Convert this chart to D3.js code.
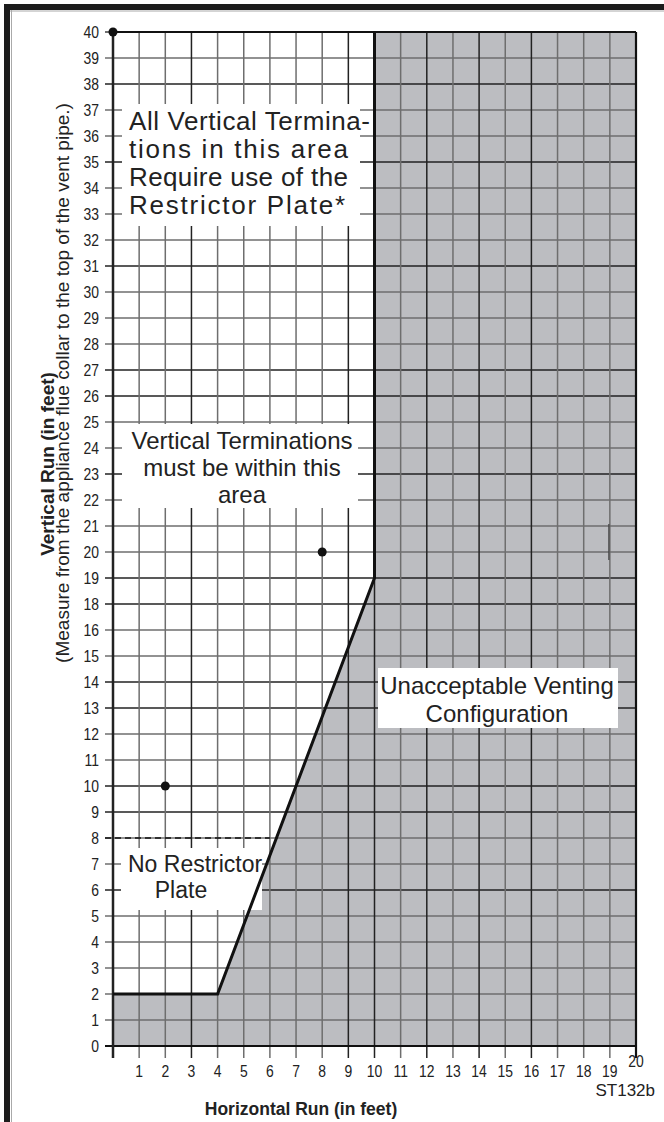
<!DOCTYPE html>
<html><head><meta charset="utf-8">
<script src="https://cdn.jsdelivr.net/npm/d3@7"></script>
<style>
html,body{margin:0;padding:0;background:#fff;}
svg{display:block;}
text{font-family:"Liberation Sans",Arial,Helvetica,sans-serif;fill:#222;}
</style>
</head><body>
<script>
// ---- data ----
const xTicks = [1,2,3,4,5,6,7,8,9,10,11,12,13,14,15,16,17,18,19,20];
// the printed axis skips "17"
const yTicks = [0,1,2,3,4,5,6,7,8,9,10,11,12,13,14,15,16,18,19,20,21,22,23,24,25,26,27,28,29,30,31,32,33,34,35,36,37,38,39,40];
const boundaryX = [0,4,10,10];
const boundaryY = [2,2,19,40];
const dotX = [0,2,8];
const dotY = [40,10,20];
const noPlateLevel = 8;
const noPlateEndX = 6;
const labels1 = ["All Vertical Termina-","tions in this area","Require use of the","Restrictor Plate*"];
const labels2 = ["Vertical Terminations","must be within this","area"];
const labels3 = ["No Restrictor","Plate"];
const labels4 = ["Unacceptable Venting","Configuration"];

const W=664,H=1122;
const svg=d3.select("body").append("svg").attr("width",W).attr("height",H);

const x=d3.scaleLinear().domain([0,20]).range([113,636]);
const u=(1046-32)/39;
const y=d3.scaleLinear().domain([0,16,18,40]).range([1046,1046-16*u,1046-17*u,32]);

// printed grid lines come out either dark or grey in the scan
const darkRows=new Set([38,35,31,27,26,23,19,18,14,13,10,9,6]);
const darkCols=new Set([3,9,10,12,14,16]);

// outer frame
svg.append("rect").attr("x",4).attr("y",4).attr("width",W-4).attr("height",6).attr("fill","#1c1c1c");
svg.append("rect").attr("x",4).attr("y",4).attr("width",6).attr("height",H-4).attr("fill","#1c1c1c");
svg.append("line").attr("x1",11.5).attr("x2",11.5).attr("y1",10).attr("y2",H).attr("stroke","#aaa").attr("stroke-width",1);
svg.append("line").attr("x1",10).attr("x2",W).attr("y1",11).attr("y2",11).attr("stroke","#aaa").attr("stroke-width",1);

// shaded unacceptable area
const gray=[[0,0]].concat(boundaryX.map((d,i)=>[d,boundaryY[i]])).concat([[20,40],[20,0]]);
svg.append("path").attr("d",d3.line().x(d=>x(d[0])).y(d=>y(d[1]))(gray)+"Z").attr("fill","#bcbdc1");

// grid
const g=svg.append("g");
yTicks.forEach(v=>{
  if(v===0||v===40) return;
  g.append("line").attr("x1",x(0)-8).attr("x2",x(20)).attr("y1",y(v)).attr("y2",y(v))
   .attr("stroke",darkRows.has(v)?"#222":"#6e6e6e").attr("stroke-width",1.4);
});
xTicks.forEach(v=>{
  if(v===20) return;
  g.append("line").attr("x1",x(v)).attr("x2",x(v)).attr("y1",y(40)).attr("y2",y(0)+12)
   .attr("stroke", darkCols.has(v)?"#222":"#6e6e6e").attr("stroke-width",1.5);
});
// small stray mark in the shaded area
g.append("line").attr("x1",x(19)-1).attr("x2",x(19)-1).attr("y1",y(21)-2).attr("y2",y(20)+8)
  .attr("stroke","#444").attr("stroke-width",1.2);

// white label boxes in the acceptable area
function box(x0,y0,x1,y1){svg.append("rect").attr("x",x0).attr("y",y0).attr("width",x1-x0).attr("height",y1-y0).attr("fill","#fff");}
box(122,104,360,226);
box(122,424,358,508);
box(121,848,262,910);

// dashed level line
svg.append("line").attr("x1",x(0)-8).attr("x2",x(noPlateEndX)).attr("y1",y(noPlateLevel)).attr("y2",y(noPlateLevel))
  .attr("stroke","#111").attr("stroke-width",1.4).attr("stroke-dasharray","6,4");

// box on gray
svg.append("rect").attr("x",378).attr("y",668).attr("width",240).attr("height",60).attr("fill","#fff");

// axes frame
svg.append("line").attr("x1",x(0)-8).attr("x2",x(20)).attr("y1",y(0)).attr("y2",y(0)).attr("stroke","#111").attr("stroke-width",2);
svg.append("line").attr("x1",x(0)).attr("x2",x(20)).attr("y1",y(40)).attr("y2",y(40)).attr("stroke","#111").attr("stroke-width",2.2);
svg.append("line").attr("x1",x(0)).attr("x2",x(0)).attr("y1",y(40)).attr("y2",y(0)+12).attr("stroke","#222").attr("stroke-width",2.5);
svg.append("line").attr("x1",x(20)).attr("x2",x(20)).attr("y1",y(40)).attr("y2",y(0)+12).attr("stroke","#111").attr("stroke-width",2.2);
svg.append("line").attr("x1",x(0)-8).attr("x2",x(0)).attr("y1",y(40)).attr("y2",y(40)).attr("stroke","#222").attr("stroke-width",1.3);

// boundary
svg.append("path").attr("d",d3.line().x((d,i)=>x(boundaryX[i])).y((d,i)=>y(boundaryY[i]))(boundaryX))
  .attr("fill","none").attr("stroke","#111").attr("stroke-width",3).attr("stroke-linejoin","miter");

// dots
svg.selectAll("circle.dot").data(dotX).enter().append("circle")
  .attr("cx",(d)=>x(d)).attr("cy",(d,i)=>y(dotY[i])).attr("r",4.5).attr("fill","#111");

// tick labels (condensed)
svg.selectAll("text.yl").data(yTicks).enter().append("text")
  .attr("transform",d=>`translate(99,${y(d)}) scale(0.82,1)`).attr("dy","0.36em").attr("text-anchor","end")
  .attr("font-size",17).text(d=>d);
svg.selectAll("text.xl").data(xTicks).enter().append("text")
  .attr("transform",d=>`translate(${x(d)},${d===20?1067:1077}) scale(0.82,1)`).attr("text-anchor","middle")
  .attr("font-size",17).text(d=>d);

// annotations
function lines(arr,cx,cy0,step,size,anchor,lens){
  arr.forEach((t,i)=>{
    const tx=svg.append("text").attr("x",cx).attr("y",cy0+i*step)
      .attr("dy","0.35em").attr("text-anchor",anchor).attr("font-size",size).text(t);
    if(lens) tx.attr("textLength",lens[i]).attr("lengthAdjust","spacing");
  });
}
lines(labels1,129,121,28,26,"start",[241,219,219,216]);
lines(labels2,242,441,27,24,"middle");
lines([labels3[0]],128,864,25,23,"start");
lines([labels3[1]],181,890,25,23,"middle");
lines(labels4,497,686,28,24,"middle");

// axis titles
svg.append("text").attr("x",301).attr("y",1115).attr("text-anchor","middle")
  .attr("font-size",17.5).attr("font-weight","bold").text("Horizontal Run (in feet)");
svg.append("text").attr("x",655).attr("y",1096).attr("text-anchor","end")
  .attr("font-size",17).text("ST132b");
svg.append("text").attr("transform","translate(47,464) rotate(-90)").attr("text-anchor","middle").attr("dy","0.35em")
  .attr("font-size",19).attr("font-weight","bold").text("Vertical Run (in feet)");
svg.append("text").attr("transform","translate(62,383) rotate(-90)").attr("text-anchor","middle").attr("dy","0.35em")
  .attr("font-size",19).text("(Measure from the appliance flue collar to the top of the vent pipe.)");
</script>
</body></html>
